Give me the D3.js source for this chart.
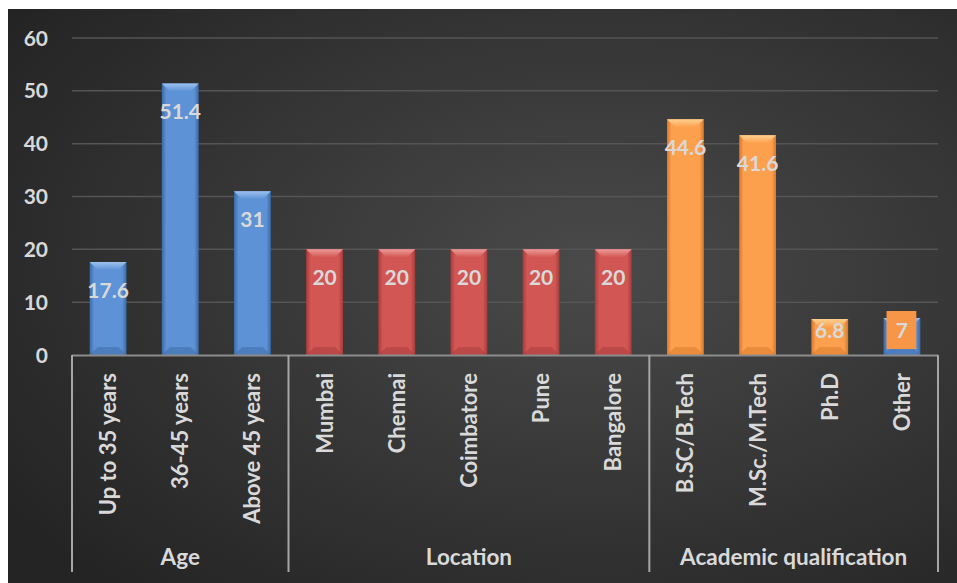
<!DOCTYPE html>
<html>
<head>
<meta charset="utf-8">
<script src="https://d3js.org/d3.v7.min.js"></script>
<style>
  body { margin: 0; background: #fff; }
  text { font-family: Lato, "Open Sans", sans-serif; font-weight: bold; fill: #d9d9d9; }
</style>
</head>
<body>
<div id="chart"></div>
<script>
// Data
const categories = ["Up to 35 years", "36-45 years", "Above 45 years",
    "Mumbai", "Chennai", "Coimbatore", "Pune", "Bangalore",
    "B.SC/B.Tech", "M.Sc./M.Tech", "Ph.D", "Other"];
const values = [17.6, 51.4, 31, 20, 20, 20, 20, 20, 44.6, 41.6, 6.8, 7];
const groupNames = ["Age", "Location", "Academic qualification"];
const groupSizes = [3, 5, 4];
const yTicks = [0, 10, 20, 30, 40, 50, 60];

const width = 957, height = 583;

// bar palettes: [edge, light, top]
const palettes = {
    blue: ["#3b6aa6", "#5d92d6", "#9cc2ef"],
    red: ["#a63c3a", "#d25654", "#ee9a98"],
    orange: ["#d9782a", "#fda04e", "#ffd08f"]
};
const groupColor = ["blue", "red", "orange"];

const svg = d3.select("#chart").append("svg")
    .attr("width", width)
    .attr("height", height);

const defs = svg.append("defs");
const bg = defs.append("radialGradient").attr("id", "bg")
    .attr("cx", "62%").attr("cy", "45%").attr("r", "75%");
bg.append("stop").attr("offset", "0%").attr("stop-color", "#4a4a4a");
bg.append("stop").attr("offset", "100%").attr("stop-color", "#242424");

Object.entries(palettes).forEach(([k, p]) => {
    const g = defs.append("linearGradient").attr("id", "bar-" + k)
        .attr("x1", "0%").attr("x2", "100%").attr("y1", "0%").attr("y2", "0%");
    g.append("stop").attr("offset", "0%").attr("stop-color", p[0]);
    g.append("stop").attr("offset", "12%").attr("stop-color", p[1]);
    g.append("stop").attr("offset", "88%").attr("stop-color", p[1]);
    g.append("stop").attr("offset", "100%").attr("stop-color", p[0]);
    const t = defs.append("linearGradient").attr("id", "top-" + k)
        .attr("x1", "0%").attr("x2", "0%").attr("y1", "0%").attr("y2", "100%");
    t.append("stop").attr("offset", "0%").attr("stop-color", p[2]);
    t.append("stop").attr("offset", "100%").attr("stop-color", p[1]);
});

// background
svg.append("rect")
    .attr("x", 8).attr("y", 9)
    .attr("width", width - 8).attr("height", height - 9)
    .attr("fill", "url(#bg)");

// scales
const x = d3.scaleBand()
    .domain(categories)
    .range([72, 938])
    .paddingInner(0.49)
    .paddingOuter(0.245);

const y = d3.scaleLinear()
    .domain([0, 60])
    .range([355, 38]);

// gridlines
svg.append("g")
    .selectAll("line")
    .data(yTicks.filter(d => d > 0))
    .enter()
    .append("line")
    .attr("x1", 72).attr("x2", 938)
    .attr("y1", d => y(d)).attr("y2", d => y(d))
    .attr("stroke", "#555555")
    .attr("stroke-width", 1.5);

// y axis labels
svg.append("g")
    .selectAll("text")
    .data(yTicks)
    .enter()
    .append("text")
    .attr("x", 48)
    .attr("y", d => y(d))
    .attr("dy", "0.36em")
    .attr("text-anchor", "end")
    .style("font-size", "21px")
    .text(d => d);

// color of each bar
let colorOf = [];
groupSizes.forEach((n, gi) => { for (let i = 0; i < n; i++) colorOf.push(groupColor[gi]); });
colorOf[categories.indexOf("Other")] = "blue";

// bars
const bw = x.bandwidth();
const barData = categories.map((c, i) => ({ cat: c, value: values[i], color: colorOf[i] }));
const bars = svg.append("g")
    .selectAll("g")
    .data(barData)
    .enter()
    .append("g");

bars.append("rect")
    .attr("x", d => x(d.cat))
    .attr("y", d => y(d.value))
    .attr("width", bw)
    .attr("height", d => y(0) - y(d.value))
    .attr("fill", d => `url(#bar-${d.color})`);

// top bevel
bars.append("path")
    .attr("d", d => {
        const x0 = x(d.cat), y0 = y(d.value), b = Math.min(8, (y(0) - y0) / 3);
        return `M${x0},${y0}L${x0 + bw},${y0}L${x0 + bw - b},${y0 + b}L${x0 + b},${y0 + b}Z`;
    })
    .attr("fill", d => `url(#top-${d.color})`);

// bottom bevel
bars.append("path")
    .attr("d", d => {
        const x0 = x(d.cat), y1 = y(0), b = Math.min(8, (y(0) - y(d.value)) / 3);
        return `M${x0},${y1}L${x0 + b},${y1 - b}L${x0 + bw - b},${y1 - b}L${x0 + bw},${y1}Z`;
    })
    .attr("fill", d => palettes[d.color][0])
    .attr("opacity", 0.5);

// label box for "Other"
const oi = categories.indexOf("Other");
svg.append("rect")
    .attr("x", x(categories[oi]) + 3)
    .attr("y", y(values[oi]) - 7)
    .attr("width", bw - 7)
    .attr("height", 38)
    .attr("fill", "#f79646");

// data labels
svg.append("g")
    .selectAll("text")
    .data(barData)
    .enter()
    .append("text")
    .attr("x", d => x(d.cat) + bw / 2)
    .attr("y", d => Math.min(y(d.value) + 28, y(0) - 25))
    .attr("dy", "0.36em")
    .attr("text-anchor", "middle")
    .style("font-size", "21px")
    .text(d => d.value);

// x axis line
svg.append("line")
    .attr("x1", 72).attr("x2", 938)
    .attr("y1", 355.5).attr("y2", 355.5)
    .attr("stroke", "#8c8c8c")
    .attr("stroke-width", 2);

// category labels
svg.append("g")
    .selectAll("text")
    .data(categories)
    .enter()
    .append("text")
    .attr("transform", d => `translate(${x(d) + bw / 2},373) rotate(-90)`)
    .attr("dy", "0.36em")
    .attr("text-anchor", "end")
    .style("font-size", "22px")
    .text(d => d);

// group separators and labels
let start = 0;
const bounds = [x.range()[0]];
groupSizes.forEach(n => {
    start += n;
    bounds.push(x.range()[0] + x.step() * start);
});
svg.append("g")
    .selectAll("line")
    .data(bounds)
    .enter()
    .append("line")
    .attr("x1", d => d).attr("x2", d => d)
    .attr("y1", 355).attr("y2", 572)
    .attr("stroke", "#a6a6a6")
    .attr("stroke-width", 2);

svg.append("g")
    .selectAll("text")
    .data(groupNames)
    .enter()
    .append("text")
    .attr("x", (d, i) => (bounds[i] + bounds[i + 1]) / 2)
    .attr("y", 557)
    .attr("dy", "0.36em")
    .attr("text-anchor", "middle")
    .style("font-size", "22.5px")
    .text(d => d);
</script>
</body>
</html>
